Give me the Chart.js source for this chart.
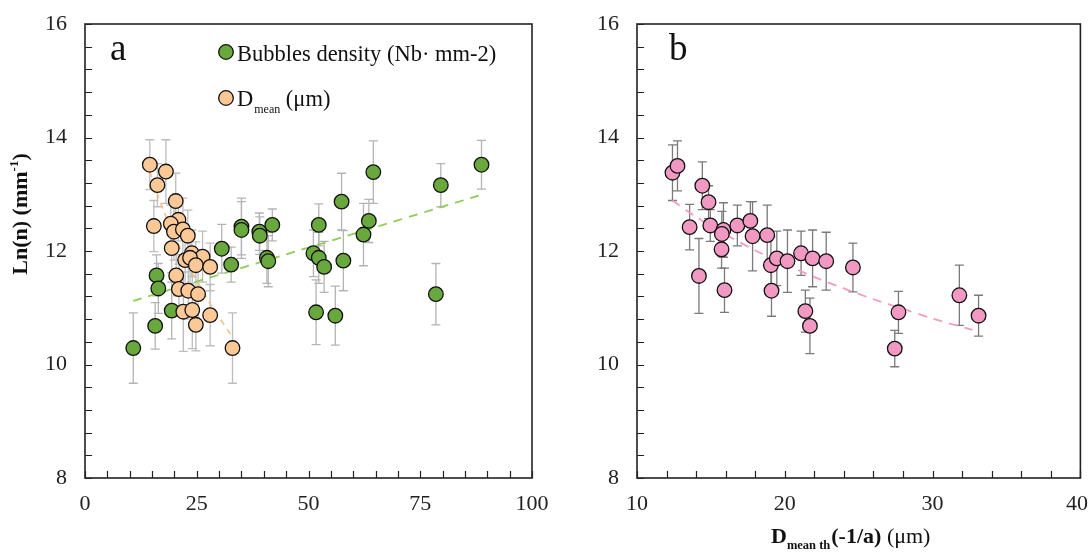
<!DOCTYPE html>
<html>
<head>
<meta charset="utf-8">
<script src="https://cdn.jsdelivr.net/npm/chart.js@4.4.1/dist/chart.umd.min.js"></script>
<style>
  html, body { margin: 0; padding: 0; background: #fff; }
  #wrapA { position: absolute; left: 0; top: 0; width: 565px; height: 552px; }
  #wrapB { position: absolute; left: 545px; top: 0; width: 544px; height: 552px; }
</style>
</head>
<body>
<div id="wrapA"><canvas id="chartA" width="565" height="552"></canvas></div>
<div id="wrapB"><canvas id="chartB" width="544" height="552"></canvas></div>
<script>
// ---------- Panel a : Bubbles density ----------
const densityX = [88.7, 79.6, 64.5, 57.4, 63.5, 62.3, 52.3, 41.9, 35.0, 35.0, 39.0, 39.1, 30.6, 32.7, 40.7, 41.0, 51.1, 52.3, 53.5, 57.8, 16.0, 16.4, 78.5, 19.4, 51.7, 56.0, 15.7, 10.8];
const densityY = [13.52, 13.16, 13.39, 12.87, 12.53, 12.29, 12.46, 12.46, 12.43, 12.37, 12.34, 12.27, 12.04, 11.76, 11.88, 11.82, 11.96, 11.88, 11.72, 11.83, 11.57, 11.34, 11.24, 10.95, 10.92, 10.86, 10.68, 10.29];
const densityErr = [0.43, 0.38, 0.55, 0.50, 0.38, 0.55, 0.37, 0.28, 0.50, 0.50, 0.33, 0.33, 0.43, 0.31, 0.45, 0.45, 0.41, 0.45, 0.45, 0.53, 0.36, 0.44, 0.54, 0.50, 0.57, 0.52, 0.41, 0.62];

// ---------- Panel a : D mean ----------
const dmeanX = [14.5, 18.1, 16.2, 20.3, 15.4, 20.9, 19.2, 19.9, 21.9, 23.0, 19.4, 23.9, 26.3, 22.4, 23.5, 24.8, 28.0, 20.4, 21.0, 23.1, 25.3, 22.0, 24.0, 28.0, 24.8, 33.0];
const dmeanY = [13.52, 13.40, 13.16, 12.88, 12.44, 12.55, 12.48, 12.34, 12.38, 12.27, 12.05, 11.96, 11.90, 11.84, 11.88, 11.75, 11.72, 11.57, 11.33, 11.30, 11.24, 10.93, 10.96, 10.87, 10.70, 10.29];
const dmeanErr = [0.44, 0.56, 0.38, 0.49, 0.45, 0.37, 0.33, 0.50, 0.55, 0.45, 0.43, 0.41, 0.45, 0.45, 0.45, 0.41, 0.42, 0.36, 0.44, 0.50, 0.54, 0.70, 0.68, 0.54, 0.46, 0.62];

// ---------- Panel a : trend lines ----------
const densityTrendX = [10.8, 88.7];
const densityTrendY = [11.12, 12.99];
const dmeanTrendX = [14.5, 16, 18, 20, 22, 24, 26, 28, 30, 32.7];
const dmeanTrendY = [13.40, 13.05, 12.63, 12.27, 11.93, 11.62, 11.34, 11.07, 10.83, 10.52];

// ---------- Panel b : D mean th ----------
const dthX = [12.40, 12.74, 13.56, 14.19, 14.42, 14.84, 14.96, 15.85, 15.74, 15.72, 15.92, 16.79, 17.67, 17.82, 18.81, 19.06, 19.46, 19.10, 20.18, 21.10, 21.39, 21.70, 21.88, 22.80, 24.61, 27.69, 27.44, 31.81, 33.11];
const dthY = [13.38, 13.50, 12.42, 11.56, 13.15, 12.86, 12.45, 12.37, 12.30, 12.03, 11.31, 12.45, 12.53, 12.26, 12.28, 11.75, 11.87, 11.30, 11.82, 11.96, 10.94, 10.68, 11.87, 11.82, 11.71, 10.92, 10.28, 11.22, 10.86];
const dthErr = [0.49, 0.44, 0.40, 0.66, 0.42, 0.29, 0.28, 0.48, 0.40, 0.33, 0.39, 0.36, 0.34, 0.61, 0.53, 0.50, 0.48, 0.45, 0.55, 0.39, 0.37, 0.49, 0.50, 0.51, 0.43, 0.37, 0.32, 0.53, 0.36];
const dthTrendX = [12.4, 14, 16, 18, 20, 22, 24, 26, 28, 30, 32.7];
const dthTrendY = [12.89, 12.60, 12.29, 12.01, 11.77, 11.54, 11.34, 11.15, 10.98, 10.81, 10.61];

// ---------- axes ----------
const yMin = 8, yMax = 16, yStep = 0.4, yLabelEvery = 2;
const axAMin = 0, axAMax = 100, axAStep = 5, axALabelEvery = 25;
const axBMin = 10, axBMax = 40, axBStep = 2, axBLabelEvery = 10;

const SERIF = "'Liberation Serif', 'Times New Roman', serif";
const toPts = (xs, ys) => xs.map((v, i) => ({ x: v, y: ys[i] }));
const isMult = (v, m) => { const r = Math.round(v / m) * m; return Math.abs(v - r) < 1e-6; };

function errPlugin(sets) {
  return {
    id: 'errbars',
    beforeDatasetsDraw(chart) {
      const { ctx, scales: { x, y } } = chart;
      ctx.save();
      sets.forEach(s => {
        ctx.strokeStyle = s.color;
        ctx.lineWidth = 1.3;
        s.x.forEach((xv, i) => {
          const px = x.getPixelForValue(xv);
          const p1 = y.getPixelForValue(s.y[i] + s.e[i]);
          const p2 = y.getPixelForValue(s.y[i] - s.e[i]);
          ctx.beginPath();
          ctx.moveTo(px, p1); ctx.lineTo(px, p2);
          ctx.moveTo(px - 4.5, p1); ctx.lineTo(px + 4.5, p1);
          ctx.moveTo(px - 4.5, p2); ctx.lineTo(px + 4.5, p2);
          ctx.stroke();
        });
      });
      ctx.restore();
    }
  };
}

const framePlugin = {
  id: 'frame',
  afterDraw(chart) {
    const { ctx, chartArea: a, scales: { x, y } } = chart;
    ctx.save();
    ctx.strokeStyle = '#222';
    ctx.lineWidth = 1.6;
    ctx.strokeRect(a.left, a.top, a.right - a.left, a.bottom - a.top);
    ctx.lineWidth = 1.2;
    ctx.beginPath();
    y.ticks.forEach(t => {
      const py = Math.round(y.getPixelForValue(t.value)) + 0.5;
      ctx.moveTo(a.left, py); ctx.lineTo(a.left + 7, py);
    });
    x.ticks.forEach(t => {
      const px = Math.round(x.getPixelForValue(t.value)) + 0.5;
      ctx.moveTo(px, a.bottom); ctx.lineTo(px, a.bottom - 7);
    });
    ctx.stroke();
    ctx.restore();
  }
};

// x tick labels drawn from the scale's ticks, kept inside the canvas
const xLabelPlugin = {
  id: 'xlabels',
  afterDraw(chart) {
    const { ctx, chartArea: a, scales: { x } } = chart;
    ctx.save();
    ctx.fillStyle = '#222';
    ctx.font = '22px ' + SERIF;
    ctx.textBaseline = 'top';
    x.ticks.forEach(t => {
      if (!isMult(t.value, chart.options.plugins.xlabels.every)) return;
      const s = String(Math.round(t.value));
      const w = ctx.measureText(s).width;
      let px = x.getPixelForValue(t.value) - w / 2;
      px = Math.min(px, chart.width - w - 1);
      ctx.fillText(s, px, a.bottom + 15);
    });
    ctx.restore();
  }
};

function yScale(w) {
  return {
    min: yMin, max: yMax,
    afterFit: s => { s.width = w; s.paddingTop = 0; s.paddingBottom = 0; },
    grid: { display: false, drawTicks: false },
    border: { display: false },
    ticks: {
      stepSize: yStep, autoSkip: false, padding: 18,
      color: '#222', font: { family: SERIF, size: 22 },
      callback: v => isMult(v, yLabelEvery) ? String(Math.round(v)) : ''
    }
  };
}
function xScale(min, max, step) {
  return {
    type: 'linear', min, max,
    afterFit: s => { s.height = 74; s.paddingLeft = 0; s.paddingRight = 0; },
    grid: { display: false, drawTicks: false },
    border: { display: false },
    ticks: {
      stepSize: step, autoSkip: false, maxRotation: 0, padding: 15,
      color: 'rgba(0,0,0,0)', font: { family: SERIF, size: 22 },
      callback: () => ''
    }
  };
}

const GREEN = '#69a83d', ORANGE = '#fcc996', PINK = '#f199c3';

function pointSet(label, data, fill, order) {
  return { type: 'scatter', label, data, backgroundColor: fill, borderColor: '#111', borderWidth: 1.3, pointRadius: 7.3, pointHoverRadius: 7.3, order };
}
function trendSet(data, color, dash, width) {
  return { type: 'line', data, borderColor: color, borderWidth: width, borderDash: dash, pointRadius: 0, fill: false, tension: 0.3, showLine: true, order: 5 };
}

// ---------- panel a texts ----------
const textsA = {
  id: 'textsA',
  afterDraw(chart) {
    const ctx = chart.ctx;
    ctx.save();
    ctx.fillStyle = '#111';
    ctx.textBaseline = 'alphabetic';
    ctx.font = '37px ' + SERIF;
    ctx.fillText('a', 110, 60);
    // legend
    ctx.lineWidth = 1.3; ctx.strokeStyle = '#111';
    ctx.fillStyle = GREEN;
    ctx.beginPath(); ctx.arc(226, 52, 7.3, 0, Math.PI * 2); ctx.fill(); ctx.stroke();
    ctx.fillStyle = ORANGE;
    ctx.beginPath(); ctx.arc(226, 98, 7.3, 0, Math.PI * 2); ctx.fill(); ctx.stroke();
    ctx.fillStyle = '#111';
    ctx.font = '22.5px ' + SERIF;
    ctx.fillText('Bubbles density (Nb\u00b7 mm-2)', 237, 61);
    ctx.fillText('D', 237, 106);
    let w = ctx.measureText('D').width;
    ctx.font = '12px ' + SERIF;
    ctx.fillText('mean', 237 + w + 1, 113);
    const w2 = ctx.measureText('mean').width;
    ctx.font = '22.5px ' + SERIF;
    ctx.fillText(' (\u03bcm)', 237 + w + 1 + w2, 106);
    // y axis title
    ctx.translate(27, 214);
    ctx.rotate(-Math.PI / 2);
    ctx.font = 'bold 22px ' + SERIF;
    const t1 = 'Ln(n) (mm';
    const t1w = ctx.measureText(t1).width;
    ctx.font = 'bold 13px ' + SERIF;
    const supw = ctx.measureText('-1').width;
    ctx.font = 'bold 22px ' + SERIF;
    const t3w = ctx.measureText(')').width;
    const total = t1w + supw + t3w;
    let sx = -total / 2;
    ctx.fillText(t1, sx, 0); sx += t1w;
    ctx.font = 'bold 13px ' + SERIF;
    ctx.fillText('-1', sx, -9); sx += supw;
    ctx.font = 'bold 22px ' + SERIF;
    ctx.fillText(')', sx, 0);
    ctx.restore();
  }
};

const textsB = {
  id: 'textsB',
  afterDraw(chart) {
    const ctx = chart.ctx;
    ctx.save();
    ctx.fillStyle = '#111';
    ctx.textBaseline = 'alphabetic';
    ctx.font = '37px ' + SERIF;
    ctx.fillText('b', 124, 60);
    // x axis title (canvas starts at page x 545)
    let x0 = 771 - 545;
    const base = 543;
    ctx.font = 'bold 22px ' + SERIF;
    ctx.fillText('D', x0, base); x0 += ctx.measureText('D').width;
    ctx.font = 'bold 12.5px ' + SERIF;
    ctx.fillText('mean th', x0, base + 6); x0 += ctx.measureText('mean th').width + 1;
    ctx.font = 'bold 22px ' + SERIF;
    ctx.fillText('(-1/a)', x0, base); x0 += ctx.measureText('(-1/a) ').width;
    ctx.font = '22px ' + SERIF;
    ctx.fillText('(\u03bcm)', x0, base);
    ctx.restore();
  }
};

// ---------- chart a ----------
new Chart(document.getElementById('chartA'), {
  data: {
    datasets: [
      trendSet(toPts(densityTrendX, densityTrendY), '#8fcc55', [9, 7], 1.8),
      trendSet(toPts(dmeanTrendX, dmeanTrendY), '#f5c08a', [6, 5], 1.6),
      pointSet('Bubbles density (Nb· mm-2)', toPts(densityX, densityY), GREEN, 2),
      pointSet('Dmean (μm)', toPts(dmeanX, dmeanY), ORANGE, 1)
    ]
  },
  options: {
    responsive: false, animation: false, devicePixelRatio: 1,
    layout: { padding: { left: 0, right: 33, top: 24, bottom: 0 } },
    plugins: { legend: { display: false }, tooltip: { enabled: false }, xlabels: { every: axALabelEvery } },
    scales: { x: xScale(axAMin, axAMax, axAStep), y: yScale(85) }
  },
  plugins: [
    errPlugin([
      { x: densityX, y: densityY, e: densityErr, color: '#b4b4b4' },
      { x: dmeanX, y: dmeanY, e: dmeanErr, color: '#bdbdbd' }
    ]),
    framePlugin, xLabelPlugin, textsA
  ]
});

// ---------- chart b ----------
new Chart(document.getElementById('chartB'), {
  data: {
    datasets: [
      trendSet(toPts(dthTrendX, dthTrendY), '#f29cc4', [9, 7], 1.8),
      pointSet('Dmean th', toPts(dthX, dthY), PINK, 1)
    ]
  },
  options: {
    responsive: false, animation: false, devicePixelRatio: 1,
    layout: { padding: { left: 0, right: 6, top: 24, bottom: 0 } },
    plugins: { legend: { display: false }, tooltip: { enabled: false }, xlabels: { every: axBLabelEvery } },
    scales: { x: xScale(axBMin, axBMax, axBStep), y: yScale(92) }
  },
  plugins: [
    errPlugin([{ x: dthX, y: dthY, e: dthErr, color: '#7a7a7a' }]),
    framePlugin, xLabelPlugin, textsB
  ]
});
</script>
</body>
</html>
